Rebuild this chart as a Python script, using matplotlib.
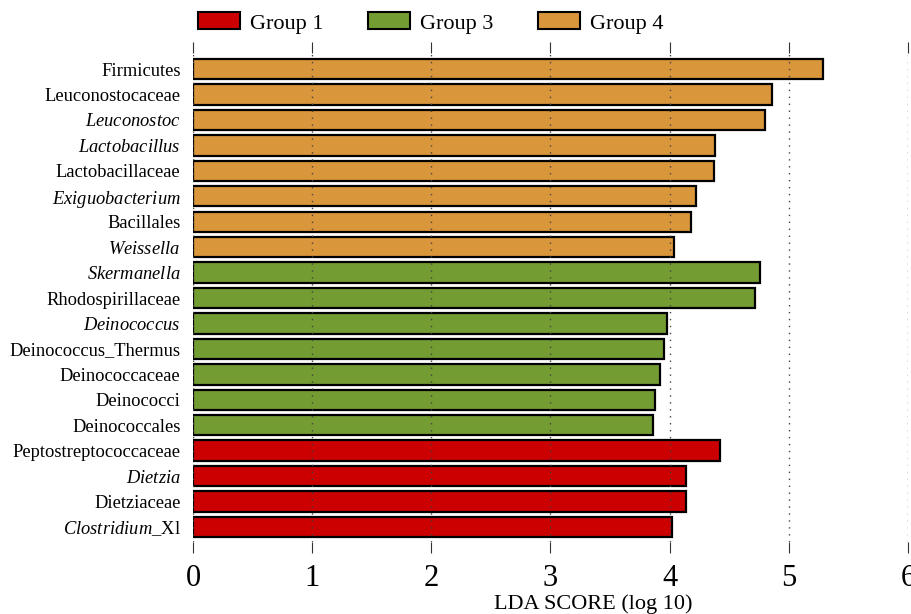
import matplotlib
matplotlib.use("Agg")
import matplotlib.pyplot as plt
from matplotlib.patches import Patch

plt.rcParams['font.family'] = ['Liberation Serif', 'DejaVu Serif']
plt.rcParams['mathtext.fontset'] = 'custom'
plt.rcParams['mathtext.rm'] = 'Liberation Serif'
plt.rcParams['mathtext.it'] = 'Liberation Serif:italic'

# taxa from top to bottom
taxa = ['Firmicutes', 'Leuconostocaceae', 'Leuconostoc', 'Lactobacillus',
        'Lactobacillaceae', 'Exiguobacterium', 'Bacillales', 'Weissella',
        'Skermanella', 'Rhodospirillaceae', 'Deinococcus', 'Deinococcus_Thermus',
        'Deinococcaceae', 'Deinococci', 'Deinococcales',
        'Peptostreptococcaceae', 'Dietzia', 'Dietziaceae', 'Clostridium_Xl']
lda = [5.29, 4.86, 4.80, 4.38, 4.37, 4.22, 4.18, 4.04,
       4.76, 4.72, 3.98, 3.95, 3.92, 3.88, 3.86,
       4.42, 4.14, 4.14, 4.02]
groups = ['Group 4'] * 8 + ['Group 3'] * 7 + ['Group 1'] * 4
italic = ['Leuconostoc', 'Lactobacillus', 'Exiguobacterium', 'Weissella',
          'Skermanella', 'Deinococcus', 'Dietzia']

colors = {'Group 1': '#cc0000', 'Group 3': '#739c33', 'Group 4': '#d9963b'}

def fmt(name):
    if name in italic:
        return r'$\mathit{%s}$' % name
    if name == 'Clostridium_Xl':
        return r'$\mathit{Clostridium}$_Xl'
    return name

fig = plt.figure(figsize=(9.12, 6.14), dpi=100)
ax = fig.add_axes([193 / 912, 1 - 542 / 614, 715 / 912, 489 / 614])

n = len(taxa)
ypos = list(range(n - 1, -1, -1))
ax.barh(ypos, lda, height=0.8, color=[colors[g] for g in groups],
        edgecolor='black', linewidth=1.6, zorder=2)

ax.set_xlim(0, 6)
ax.set_ylim(-0.59, n - 1 + 0.63)
ax.set_yticks(ypos)
ax.set_yticklabels([fmt(t) for t in taxa], fontsize=13.3)
ax.tick_params(axis='y', length=0, pad=9)
ax.set_xticks(range(7))
ax.tick_params(axis='x', which='both', top=True, bottom=True, direction='out',
               length=8, width=0.8, color='#333333', labelsize=22, pad=8)
ax.set_axisbelow(False)
ax.grid(axis='x', linestyle=(0, (1, 4)), color='#444444', linewidth=1)
for s in ax.spines.values():
    s.set_visible(False)

fig.text(593 / 912, 1 - 604 / 614, 'LDA SCORE (log 10)', fontsize=16,
         ha='center', va='center')

handles = [Patch(facecolor=colors[g], edgecolor='black', linewidth=1.5, label=g)
           for g in ['Group 1', 'Group 3', 'Group 4']]
fig.legend(handles=handles, loc='center', bbox_to_anchor=(431 / 912, 1 - 23 / 614),
           ncol=3, frameon=False, fontsize=16, handlelength=1.9, handleheight=0.8,
           columnspacing=2.0, handletextpad=0.45)

fig.savefig('out.png', dpi=100)
